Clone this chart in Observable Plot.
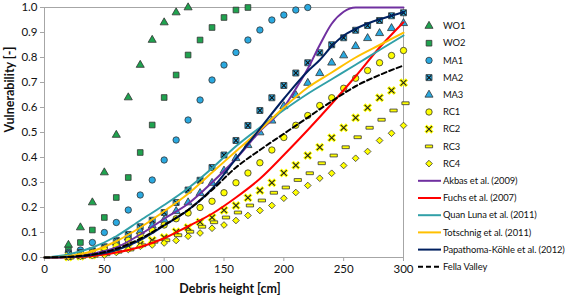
<!DOCTYPE html>
<html><head><meta charset="utf-8">
<script src="https://cdn.jsdelivr.net/npm/d3@7"></script>
<script src="https://cdn.jsdelivr.net/npm/@observablehq/plot@0.6"></script>
<style>
body{margin:0;background:#fff;font-family:Lato,"Noto Sans",sans-serif;}
#wrap{position:relative;width:567px;height:298px;}
#legend{position:absolute;left:0;top:0;pointer-events:none;}
</style></head>
<body><div id="wrap"></div>
<script>
// ---- data ----
const heights = [20,30,40,50,60,70,80,90,100,110,120,130,140,150,160,170,180,190,200,210,220,230,240,250,260,270,280,290,300];
const WO1 = [0.05,0.12,0.22,0.34,0.49,0.64,0.77,0.87,0.94,0.98,1.0];
const WO2 = [0.03,0.06,0.11,0.16,0.24,0.32,0.42,0.53,0.64,0.73,0.81,0.87,0.92,0.96,0.99,1.0];
const MA1 = [0.02,0.03,0.06,0.10,0.14,0.19,0.25,0.31,0.39,0.47,0.55,0.63,0.71,0.77,0.82,0.87,0.91,0.95,0.97,0.99,1.0];
const MA2 = [0.015,0.02,0.027,0.043,0.069,0.092,0.123,0.149,0.18,0.22,0.27,0.309,0.36,0.41,0.468,0.528,0.588,0.639,0.688,0.738,0.779,0.819,0.851,0.879,0.909,0.928,0.948,0.967,0.979];
const MA3 = [0.01,0.015,0.023,0.036,0.06,0.08,0.105,0.127,0.15,0.185,0.22,0.257,0.298,0.347,0.397,0.449,0.5,0.547,0.605,0.649,0.698,0.737,0.779,0.808,0.845,0.877,0.897,0.917,0.937];
const RC1 = [0.003,0.009,0.02,0.033,0.047,0.069,0.089,0.109,0.13,0.155,0.178,0.2,0.225,0.259,0.299,0.338,0.379,0.43,0.48,0.529,0.568,0.608,0.639,0.677,0.717,0.748,0.779,0.808,0.828];
const RC2 = [0.002,0.005,0.01,0.02,0.03,0.04,0.053,0.069,0.08,0.103,0.12,0.142,0.16,0.189,0.208,0.239,0.268,0.299,0.338,0.369,0.408,0.441,0.479,0.519,0.559,0.599,0.639,0.668,0.699];
const RC3 = [0.0,0.003,0.007,0.013,0.023,0.032,0.049,0.063,0.069,0.089,0.103,0.123,0.141,0.16,0.18,0.208,0.228,0.259,0.28,0.31,0.337,0.377,0.408,0.441,0.481,0.519,0.551,0.588,0.617];
const RC4 = [0.002,0.004,0.007,0.01,0.02,0.032,0.045,0.05,0.058,0.068,0.085,0.098,0.117,0.13,0.148,0.168,0.188,0.208,0.237,0.26,0.288,0.317,0.337,0.368,0.397,0.424,0.468,0.497,0.528];

const curveX = [0,20,40,60,80,100,120,140,160,180,200,220,240,260,280,300];
const akbasX = [0,20,40,60,80,100,120,140,160,180,200,210,220,230,240,250,260,280,300];
const akbas  = [0,0.003,0.015,0.04,0.092,0.155,0.215,0.3,0.395,0.505,0.6,0.675,0.755,0.85,0.935,0.983,1,1,1];
const fuchs  = [0,0.001,0.006,0.02,0.042,0.077,0.125,0.175,0.24,0.315,0.41,0.51,0.615,0.725,0.84,0.941];
const quan   = [0,0.012,0.04,0.085,0.148,0.21,0.277,0.357,0.445,0.52,0.59,0.655,0.713,0.771,0.83,0.888];
const totsch = [0,0.005,0.025,0.065,0.12,0.185,0.255,0.34,0.425,0.51,0.6,0.68,0.74,0.80,0.85,0.899];
const papaX  = [0,20,40,60,80,100,120,140,160,180,200,220,230,240,250,260,270,280,290,300];
const papa   = [0,0.002,0.01,0.03,0.07,0.128,0.19,0.275,0.395,0.515,0.635,0.745,0.79,0.845,0.888,0.915,0.936,0.953,0.967,0.982];
const fella  = [0,0.003,0.012,0.035,0.075,0.13,0.19,0.27,0.36,0.43,0.495,0.56,0.625,0.685,0.73,0.768];

const xTicks = [0,50,100,150,200,250,300];
const yTicks = [0,0.1,0.2,0.3,0.4,0.5,0.6,0.7,0.8,0.9,1.0];

// ---- styles ----
const GREEN = "#1fa34f", BLUE = "#2aa9e0", YELLOW = "#ffff00", EDGE = "#333";
const dashSymbol = {draw(ctx, size){ const s = Math.sqrt(size/28); ctx.moveTo(-3.6*s,-1.4*s); ctx.lineTo(3.6*s,-1.4*s); ctx.lineTo(3.6*s,1.4*s); ctx.lineTo(-3.6*s,1.4*s); ctx.closePath(); }};

const pts = (name, vals) => vals.map((v,i)=>({series:name, h:heights[i], v}));
const crv = (name, xs, vals) => vals.map((v,i)=>({series:name, h:xs[i], v}));

const markers = [
  {name:"WO1", data:pts("WO1",WO1), symbol:"triangle", fill:GREEN, r:3.0},
  {name:"WO2", data:pts("WO2",WO2), symbol:"square", fill:GREEN, r:3.2},
  {name:"MA1", data:pts("MA1",MA1), symbol:"circle", fill:BLUE, r:3.2},
  {name:"MA2", data:pts("MA2",MA2), symbol:"square", fill:BLUE, r:3.4, cross:true},
  {name:"MA3", data:pts("MA3",MA3), symbol:"triangle", fill:BLUE, r:3.0},
  {name:"RC1", data:pts("RC1",RC1), symbol:"circle", fill:YELLOW, r:3.2},
  {name:"RC2", data:pts("RC2",RC2), symbol:"times", fill:YELLOW, r:3.2, xmark:true},
  {name:"RC3", data:pts("RC3",RC3), symbol:dashSymbol, fill:YELLOW, r:3.0, dx:2},
  {name:"RC4", data:pts("RC4",RC4), symbol:"diamond2", fill:YELLOW, r:3.0}
];
const lines = [
  {name:"Akbas et al. (2009)", data:crv("Akbas",akbasX,akbas), color:"#7030a0"},
  {name:"Fuchs et al. (2007)", data:crv("Fuchs",curveX,fuchs), color:"#ff0000"},
  {name:"Quan Luna et al. (2011)", data:crv("Quan",curveX,quan), color:"#31a0a8"},
  {name:"Totschnig et al. (2011)", data:crv("Tots",curveX,totsch), color:"#ffc000"},
  {name:"Papathoma-Köhle et al. (2012)", data:crv("Papa",papaX,papa), color:"#002060"},
  {name:"Fella Valley", data:crv("Fella",curveX,fella), color:"#000", dash:"5,3"}
];

const markMarks = [];
for (const m of markers) {
  if (m.xmark) {
    markMarks.push(Plot.dot(m.data, {x:"h", y:"v", symbol:"times", r:m.r, stroke:YELLOW, strokeWidth:3.4}));
    markMarks.push(Plot.dot(m.data, {x:"h", y:"v", symbol:"times", r:m.r-0.4, stroke:"#222", strokeWidth:1.1}));
  } else {
    markMarks.push(Plot.dot(m.data, {x:"h", y:"v", symbol:m.symbol, r:m.r, fill:m.fill, stroke:EDGE, strokeWidth:0.8, dx:m.dx||0}));
    if (m.cross) markMarks.push(Plot.dot(m.data, {x:"h", y:"v", symbol:"times", r:2.2, stroke:"#111", strokeWidth:1.1}));
  }
}
const lineMarks = lines.map(l => Plot.line(l.data, {x:"h", y:"v", stroke:l.color, strokeWidth:2, curve:"monotone-x", strokeDasharray:l.dash||null}));

const chart = Plot.plot({
  width:567, height:298,
  marginLeft:44, marginRight:164, marginTop:7, marginBottom:41,
  style:{fontFamily:"Lato, 'Noto Sans', sans-serif", fontSize:"11.5px", color:"#111", background:"transparent"},
  x:{domain:[0,300]},
  y:{domain:[0,1]},
  marks:[
    Plot.frame({stroke:"#a6a6a6"}),
    Plot.axisY({ticks:yTicks, tickFormat:d3.format(".1f"), tickSize:4, tickPadding:3, stroke:"#a6a6a6", label:null}),
    Plot.axisX({ticks:xTicks, tickSize:4, tickPadding:3, stroke:"#a6a6a6", label:null}),
    ...markMarks,
    ...lineMarks,
    Plot.text(["Debris height [cm]"], {frameAnchor:"bottom", dy:35, dx:6, fontWeight:"bold", fontSize:12.5, fill:"#111"}),
    Plot.text(["Vulnerability [-]"], {frameAnchor:"left", dx:-35, rotate:-90, fontWeight:"bold", fontSize:12.5, fill:"#111"})
  ]
});
const wrap = document.getElementById("wrap");
wrap.appendChild(chart);

// ---- legend ----
const lg = d3.select(wrap).append("svg").attr("id","legend").attr("width",567).attr("height",298)
  .style("font-family","Lato, 'Noto Sans', sans-serif").style("font-size","9.4px").style("letter-spacing","-0.1px");
const y0 = 26, step = 17.2, mx = 429, tx = 443;
const symMap = {triangle:d3.symbolTriangle, square:d3.symbolSquare, circle:d3.symbolCircle, diamond2:d3.symbolDiamond2, times:d3.symbolTimes};
markers.forEach((m,i)=>{
  const y = y0 + i*step;
  const g = lg.append("g").attr("transform",`translate(${mx},${y})`);
  const size = Math.PI*m.r*m.r;
  if (m.xmark) {
    g.append("path").attr("d", d3.symbol(d3.symbolTimes, size)()).attr("stroke",YELLOW).attr("stroke-width",3.4).attr("fill","none");
    g.append("path").attr("d", d3.symbol(d3.symbolTimes, Math.PI*(m.r-0.4)**2)()).attr("stroke","#222").attr("stroke-width",1.1).attr("fill","none");
  } else {
    const type = typeof m.symbol === "string" ? symMap[m.symbol] : m.symbol;
    g.append("path").attr("d", d3.symbol(type, size)()).attr("fill",m.fill).attr("stroke",EDGE).attr("stroke-width",0.8);
    if (m.cross) g.append("path").attr("d", d3.symbol(d3.symbolTimes, Math.PI*2.2*2.2)()).attr("stroke","#111").attr("stroke-width",1.1).attr("fill","none");
  }
  lg.append("text").attr("x",tx).attr("y",y).attr("dy","0.35em").attr("fill","#111").text(m.name);
});
lines.forEach((l,j)=>{
  const y = y0 + (markers.length + j)*step;
  lg.append("line").attr("x1",418).attr("x2",441).attr("y1",y).attr("y2",y).attr("stroke",l.color).attr("stroke-width",2).attr("stroke-dasharray",l.dash||null);
  lg.append("text").attr("x",tx).attr("y",y).attr("dy","0.35em").attr("fill","#111").text(l.name);
});
</script>
</body></html>
